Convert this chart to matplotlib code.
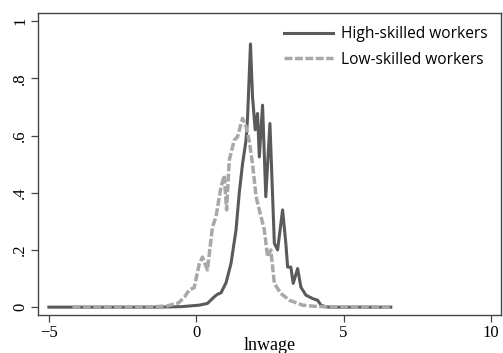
import numpy as np
import matplotlib.pyplot as plt

# density values
high_x = [-5.0, -1.5, -0.8, -0.46, 0.1, 0.38, 0.61, 0.72, 0.84, 1.01, 1.18, 1.35, 1.46,
          1.57, 1.69, 1.74, 1.84, 1.91, 2.0, 2.08, 2.14, 2.25, 2.36, 2.5, 2.65, 2.76,
          2.93, 3.04, 3.1, 3.21, 3.29, 3.44, 3.55, 3.72, 3.95, 4.12, 4.23, 4.4, 4.6, 6.6]
high_y = [0, 0, 0.001, 0.002, 0.007, 0.013, 0.036, 0.045, 0.05, 0.085, 0.153, 0.27, 0.40,
          0.50, 0.584, 0.66, 0.92, 0.735, 0.62, 0.677, 0.525, 0.706, 0.386, 0.642, 0.223, 0.20,
          0.34, 0.223, 0.14, 0.14, 0.083, 0.135, 0.07, 0.042, 0.03, 0.024, 0.007, 0.001, 0, 0]

low_x = [-4.2, -1.5, -1.0, -0.6, -0.4, -0.24, -0.07, 0.1, 0.21, 0.38, 0.55, 0.67, 0.84,
         0.95, 1.03, 1.12, 1.29, 1.4, 1.57, 1.69, 1.8, 1.91, 2.03, 2.14, 2.31, 2.42, 2.53,
         2.65, 2.87, 3.16, 3.61, 4.0, 4.5, 6.6]
low_y = [0, 0.001, 0.004, 0.015, 0.035, 0.06, 0.068, 0.15, 0.175, 0.13, 0.28, 0.316, 0.42,
         0.46, 0.34, 0.514, 0.584, 0.595, 0.66, 0.63, 0.58, 0.50, 0.386, 0.34, 0.27, 0.176, 0.2,
         0.083, 0.048, 0.024, 0.007, 0.003, 0.001, 0.0]

x_ticks = [-5, 0, 5, 10]
y_ticks = [0, 0.2, 0.4, 0.6, 0.8, 1]
y_tick_labels = ['0', '.2', '.4', '.6', '.8', '1']

fig = plt.figure(figsize=(5.03, 3.53), dpi=100)
ax = fig.add_axes([0.0755, 0.108, 0.9205, 0.855])

ax.plot(high_x, high_y, color='#5a5a5a', linewidth=2.2, label='High-skilled workers')
ax.plot(low_x, low_y, color='#a8a8a8', linewidth=2.5, linestyle=(0, (2.3, 0.7)),
        label='Low-skilled workers')

ax.set_xlim(-5.37, 10.34)
ax.set_ylim(-0.027, 1.028)
ax.set_xticks(x_ticks)
ax.set_yticks(y_ticks)
ax.set_yticklabels(y_tick_labels, rotation=90, va='center')
for lab in ax.get_xticklabels() + ax.get_yticklabels():
    lab.set_family('Liberation Serif')
    lab.set_fontsize(12)
ax.tick_params(direction='out', length=5, width=0.9, color='#444444', pad=2)

for s in ax.spines.values():
    s.set_color('#444444')
    s.set_linewidth(1.0)

ax.set_xlabel('lnwage', family='Liberation Serif', fontsize=13, labelpad=-2.5)

leg = ax.legend(loc='upper right', frameon=False, prop={'family': 'Open Sans', 'size': 11.2},
                handlelength=3.2, handletextpad=0.5, labelspacing=0.6,
                bbox_to_anchor=(1.0, 1.0), borderaxespad=0.45)

fig.savefig('out.png', dpi=100)
